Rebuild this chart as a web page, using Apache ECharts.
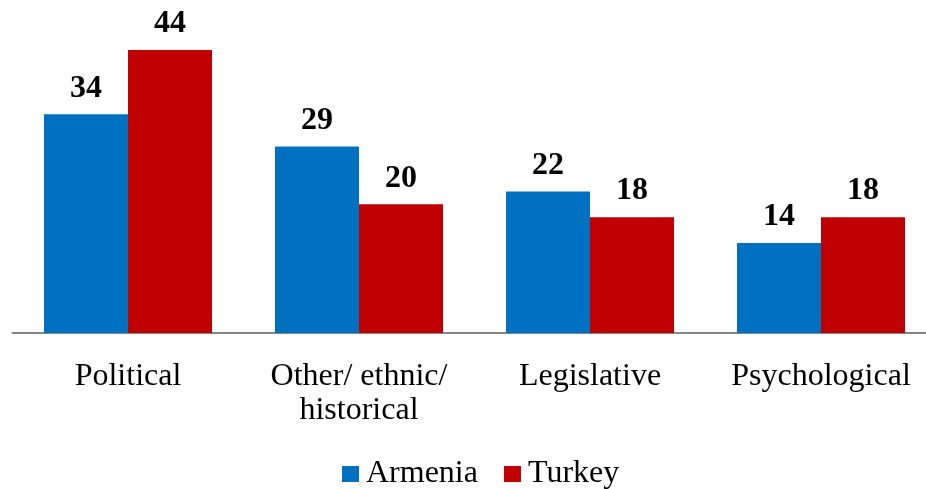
<!DOCTYPE html>
<html>
<head>
<meta charset="utf-8">
<script src="https://cdn.jsdelivr.net/npm/echarts@6/dist/echarts.min.js"></script>
<style>
  html, body { margin: 0; padding: 0; background: #fff; }
  #chart { width: 926px; height: 489px; }
</style>
</head>
<body>
<div id="chart"></div>
<script>
const categories = ['Political', 'Other/ ethnic/\nhistorical', 'Legislative', 'Psychological'];
const armenia = [34, 29, 22, 14];
const turkey = [44, 20, 18, 18];

const font = '"Liberation Serif", "Times New Roman", serif';

const valueLabel = {
  show: true,
  position: 'top',
  distance: 10,
  color: '#000',
  fontFamily: font,
  fontSize: 32,
  fontWeight: 'bold'
};

const chart = echarts.init(document.getElementById('chart'));
chart.setOption({
  animation: false,
  textStyle: { fontFamily: font },
  grid: {
    left: 12.5,
    width: 924,
    top: 50,
    bottom: 156,
    containLabel: false,
    outerBoundsMode: 'none'
  },
  legend: {
    data: ['Armenia', 'Turkey'],
    left: 342,
    top: 458,
    padding: 0,
    itemWidth: 17,
    itemHeight: 16,
    itemGap: 26,
    icon: 'rect',
    textStyle: { fontFamily: font, fontSize: 32, color: '#000', padding: [0, 0, 0, 2] }
  },
  xAxis: {
    type: 'category',
    data: categories,
    axisLine: { lineStyle: { color: '#868686', width: 2 } },
    axisTick: { show: false },
    axisLabel: {
      color: '#000',
      fontFamily: font,
      fontSize: 32,
      lineHeight: 34,
      margin: 27,
      interval: 0
    }
  },
  yAxis: {
    type: 'value',
    min: 0,
    max: 44,
    show: false,
    splitLine: { show: false }
  },
  series: [
    {
      name: 'Armenia',
      type: 'bar',
      data: armenia,
      barWidth: 84,
      barGap: '0%',
      itemStyle: { color: '#0070C0' },
      label: valueLabel
    },
    {
      name: 'Turkey',
      type: 'bar',
      data: turkey,
      barWidth: 84,
      barGap: '0%',
      itemStyle: { color: '#C00000' },
      label: valueLabel
    }
  ]
});
</script>
</body>
</html>
